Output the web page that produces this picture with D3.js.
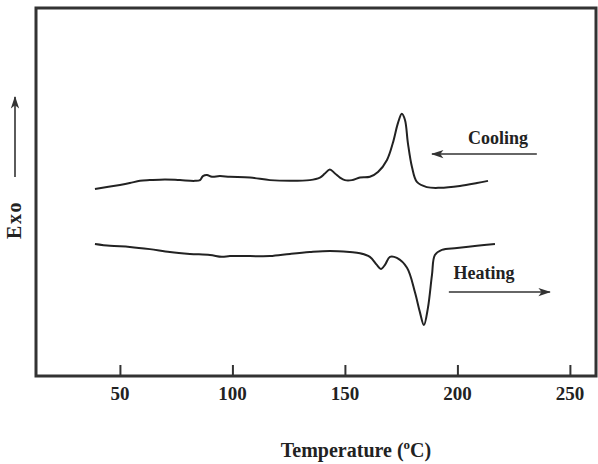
<!DOCTYPE html>
<html>
<head>
<meta charset="utf-8" />
<title>DSC</title>
<style>
  body { margin: 0; background: #fff; }
  text { font-family: "Liberation Serif", "Times New Roman", serif; font-weight: bold; fill: #222; }
</style>
</head>
<body>
<svg id="chart" width="598" height="464"></svg>
<script src="https://d3js.org/d3.v7.min.js"></script>
<script>
// cooling trace, temperature (C) vs heat flow (arbitrary units, exo up)
var coolT = [38.9, 50.0, 54.4, 58.9, 63.3, 70.0, 76.7, 83.3, 85.6, 86.9, 88.7, 90.9, 94.4, 98.9,
  107.8, 116.7, 125.6, 134.4, 138.9, 141.1, 143.3, 145.6, 147.8, 150.0, 153.1, 156.7, 161.1,
  164.7, 168.7, 171.3, 173.6, 175.3, 176.7, 178.0, 179.8, 182.0, 186.4, 192.2, 201.1, 208.7, 213.6];
var coolV = [5.07, 5.18, 5.23, 5.29, 5.31, 5.33, 5.31, 5.29, 5.31, 5.42, 5.45, 5.40, 5.42, 5.40,
  5.38, 5.31, 5.29, 5.31, 5.38, 5.49, 5.60, 5.49, 5.38, 5.31, 5.31, 5.38, 5.40,
  5.53, 5.86, 6.32, 6.87, 7.12, 6.95, 6.32, 5.67, 5.26, 5.12, 5.10, 5.15, 5.23, 5.29];

// heating trace
var heatT = [38.9, 45.6, 54.4, 63.3, 72.2, 81.1, 90.0, 95.3, 98.9, 107.8, 116.7, 125.6, 134.4,
  143.3, 152.2, 156.7, 161.1, 164.2, 166.0, 167.8, 170.0, 173.1, 177.6, 181.1, 183.3, 185.1,
  186.9, 188.7, 190.0, 193.1, 199.8, 208.7, 216.7];
var heatV = [3.57, 3.52, 3.49, 3.43, 3.35, 3.30, 3.27, 3.22, 3.24, 3.24, 3.24, 3.30, 3.35,
  3.38, 3.35, 3.32, 3.22, 3.00, 2.89, 3.00, 3.22, 3.19, 2.92, 2.26, 1.72, 1.36,
  1.83, 2.73, 3.27, 3.41, 3.46, 3.52, 3.57];

var xTicks = [50, 100, 150, 200, 250];

// labels with arrows: text position (T, v), arrow from T to T at level av
var notes = [
  {label: "Cooling", t: 218, v: 6.46, from: 235.3, to: 188.7, av: 6.02},
  {label: "Heating", t: 211.8, v: 2.78, from: 196.2, to: 241.1, av: 2.26}
];

var svg = d3.select("#chart");
var mLeft = 36, mTop = 8, mRight = 596, mBottom = 376;

var x = d3.scaleLinear().domain([12.7, 261.6]).range([mLeft, mRight]);
var y = d3.scaleLinear().domain([0, 10]).range([375, 8]);

svg.append("defs").append("marker")
  .attr("id", "head")
  .attr("viewBox", "0 0 12 10")
  .attr("refX", 11).attr("refY", 5)
  .attr("markerWidth", 8).attr("markerHeight", 6.5)
  .attr("markerUnits", "strokeWidth")
  .attr("orient", "auto")
  .append("path").attr("d", "M0,1 L12,5 L0,9 L3,5 Z").attr("fill", "#333");

// frame
svg.append("rect")
  .attr("x", mLeft).attr("y", mTop)
  .attr("width", mRight - mLeft).attr("height", mBottom - mTop)
  .attr("fill", "none").attr("stroke", "#333").attr("stroke-width", 3);

// x axis ticks drawn inward
var xAxis = d3.axisTop(x).tickValues(xTicks).tickSize(11).tickFormat("");
var gx = svg.append("g").attr("transform", "translate(0," + mBottom + ")").call(xAxis);
gx.select(".domain").remove();
gx.selectAll("line").attr("stroke", "#333").attr("stroke-width", 2);

svg.selectAll(".tlab").data(xTicks).enter().append("text")
  .attr("class", "tlab")
  .attr("x", function(d) { return x(d); })
  .attr("y", 400)
  .attr("text-anchor", "middle")
  .attr("font-size", 19)
  .text(function(d) { return d; });

// axis titles
var title = svg.append("text")
  .attr("x", 356).attr("y", 457)
  .attr("text-anchor", "middle")
  .attr("font-size", 20);
title.append("tspan").text("Temperature (");
title.append("tspan").attr("font-size", 13).attr("dy", -8).text("o");
title.append("tspan").attr("dy", 8).text("C)");

svg.append("text")
  .attr("transform", "translate(21,220) rotate(-90)")
  .attr("text-anchor", "middle")
  .attr("font-size", 20)
  .attr("letter-spacing", 1.5)
  .text("Exo");

svg.append("line")
  .attr("x1", 15).attr("x2", 15).attr("y1", 177).attr("y2", 97)
  .attr("stroke", "#333").attr("stroke-width", 1.6)
  .attr("marker-end", "url(#head)");

// traces
var line = d3.line()
  .x(function(d) { return x(d[0]); })
  .y(function(d) { return y(d[1]); })
  .curve(d3.curveCatmullRom.alpha(0.5));

var traces = [d3.zip(coolT, coolV), d3.zip(heatT, heatV)];
svg.selectAll(".trace").data(traces).enter().append("path")
  .attr("class", "trace")
  .attr("d", line)
  .attr("fill", "none")
  .attr("stroke", "#222")
  .attr("stroke-width", 2);

// annotations
svg.selectAll(".note").data(notes).enter().append("text")
  .attr("class", "note")
  .attr("x", function(d) { return x(d.t); })
  .attr("y", function(d) { return y(d.v) + 6; })
  .attr("text-anchor", "middle")
  .attr("font-size", 18)
  .text(function(d) { return d.label; });

svg.selectAll(".arrow").data(notes).enter().append("line")
  .attr("class", "arrow")
  .attr("x1", function(d) { return x(d.from); })
  .attr("x2", function(d) { return x(d.to); })
  .attr("y1", function(d) { return y(d.av); })
  .attr("y2", function(d) { return y(d.av); })
  .attr("stroke", "#333").attr("stroke-width", 1.6)
  .attr("marker-end", "url(#head)");
</script>
</body>
</html>
